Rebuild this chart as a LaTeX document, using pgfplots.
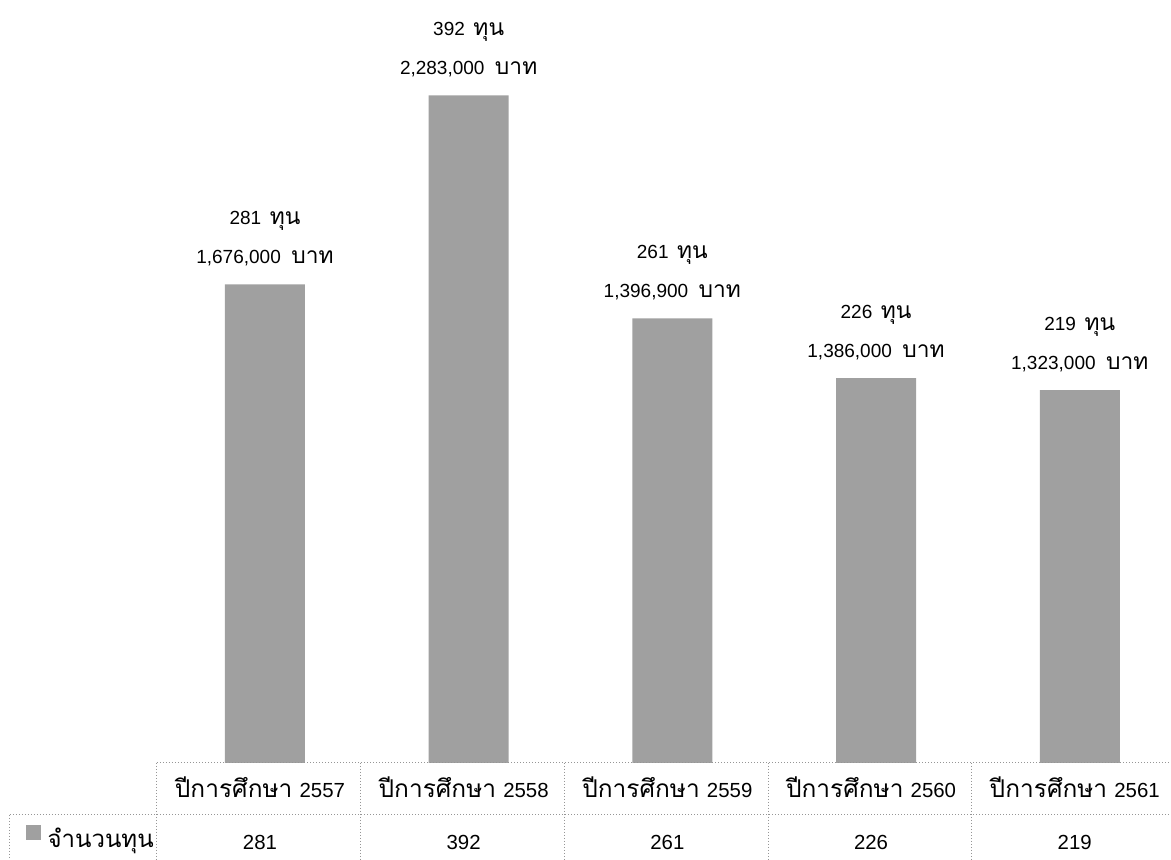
\documentclass[border=0pt]{standalone}
\usepackage{fontspec}
\setmainfont{Liberation Sans}
\newfontfamily\thai[Script=Thai, Scale=1.2]{Loma}
\usepackage{pgfplots}
\usepackage{pgfplotstable}
\pgfplotsset{compat=1.18}
\newcommand\T[1]{{\thai #1}}
\definecolor{barcol}{RGB}{160,160,160}
\definecolor{tabline}{RGB}{150,150,150}

% ปีการศึกษา (0 = 2557), จำนวนทุน, จำนวนเงิน (บาท)
\pgfplotstableread{
x n baht
0 281 1,676,000
1 392 2,283,000
2 261 1,396,900
3 226 1,386,000
4 219 1,323,000
}\data

\begin{document}
\begin{tikzpicture}
\useasboundingbox (-78.5pt,-48.5pt) rectangle (507pt,381.5pt);
\begin{axis}[
    at={(0,0)}, anchor=south west,
    scale only axis,
    width=507pt, height=381.5pt,
    xmin=-0.53, xmax=4.448,
    ymin=0, ymax=448,
    clip=false,
    axis line style={draw=none},
    tick style={draw=none},
    ytick=\empty,
    xtick={0,1,2,3,4},
    xticklabels={%
        \T{ปีการศึกษา}\hspace{0.35em}2557,
        \T{ปีการศึกษา}\hspace{0.35em}2558,
        \T{ปีการศึกษา}\hspace{0.35em}2559,
        \T{ปีการศึกษา}\hspace{0.35em}2560,
        \T{ปีการศึกษา}\hspace{0.35em}2561,
      },
    xticklabel style={anchor=base, yshift=-17.5pt, xshift=-2.5pt,
        font=\fontsize{10.2}{12}\selectfont},
    /pgf/number format/assume math mode=true,
    legend style={at={(-0.130,-0.098)}, anchor=west, draw=none, fill=none,
        inner sep=0pt, font=\fontsize{10}{12}\selectfont,
        nodes={inner sep=0pt}},
    legend cell align=left,
  ]
  \addplot [ybar, bar width=40pt, bar shift=0pt, fill=barcol, draw=none,
      area legend,
      legend image code/.code={%
        \fill[barcol] (0pt,0pt) rectangle (7.5pt,7.5pt);
        \path (11pt,0pt);},
      point meta=explicit symbolic,
      visualization depends on={y \as \nval},
      nodes near coords={\pgfmathprintnumber{\nval}\hspace{0.45em}\T{ทุน}\\
        \pgfplotspointmeta\hspace{0.55em}\T{บาท}},
      nodes near coords style={align=center, anchor=south, inner sep=0pt, yshift=9pt,
        font=\fontsize{9.5}{19.5}\selectfont},
    ] table [x=x, y=n, meta=baht] {\data};
  \addlegendentry{\T{จำนวนทุน}}

  % data row of the table under the chart
  \addplot [forget plot, only marks, mark=none,
      point meta=explicit,
      nodes near coords={\pgfmathprintnumber{\pgfplotspointmeta}},
      nodes near coords style={anchor=base, inner sep=0pt, yshift=-43.5pt, xshift=-2.5pt,
        font=\fontsize{10.2}{12}\selectfont},
    ] table [x=x, y expr=0, meta=n] {\data};

  % table grid
  \begin{scope}[tabline, densely dotted, line width=0.5pt]
    \draw (rel axis cs:0,0) -- (rel axis cs:1,0);
    \draw ([xshift=-73.5pt, yshift=-26pt]rel axis cs:0,0) -- ([yshift=-26pt]rel axis cs:1,0);
    \draw ([xshift=-73.5pt, yshift=-26pt]rel axis cs:0,0) -- ++(0pt,-22.5pt);
    \draw (axis cs:-0.53,0) -- ++(0pt,-48.5pt);
    \draw (axis cs:0.47,0) -- ++(0pt,-48.5pt);
    \draw (axis cs:1.47,0) -- ++(0pt,-48.5pt);
    \draw (axis cs:2.47,0) -- ++(0pt,-48.5pt);
    \draw (axis cs:3.47,0) -- ++(0pt,-48.5pt);
  \end{scope}
\end{axis}
\end{tikzpicture}
\end{document}
